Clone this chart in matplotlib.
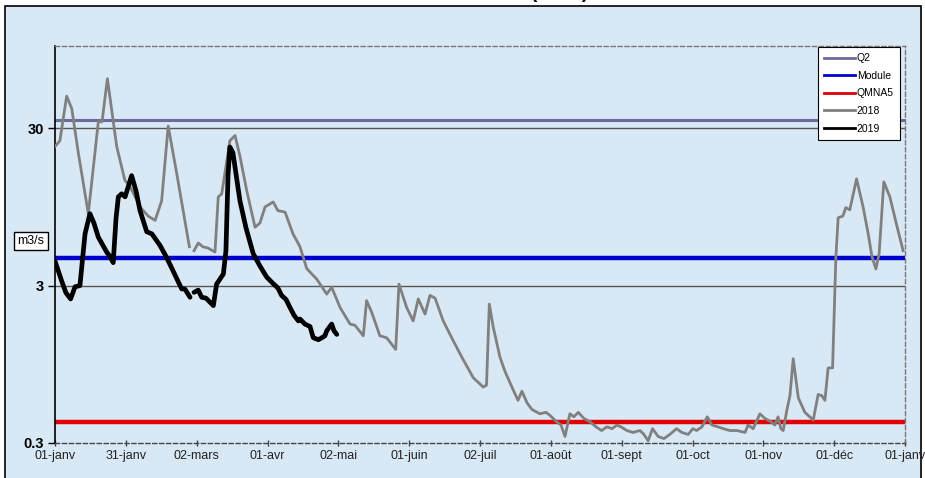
import numpy as np
import matplotlib
matplotlib.use("Agg")
import matplotlib.pyplot as plt
from matplotlib.patches import Rectangle
from matplotlib.lines import Line2D

plt.rcParams['font.family'] = ['Liberation Sans', 'DejaVu Sans']

nan = np.nan

# reference flows (m3/s)
q2 = 33.7
module = 4.5
qmna5 = 0.41

# 2018 daily flows (day of year, m3/s)
days_2018 = [0, 2.1, 5, 7.2, 10, 14.3, 18.6, 20.2, 22.5, 26.5,
             30, 32, 36.5, 40, 43, 45.8, 48.6, 52.3, 57.7, 59,
             59.7, 61.5, 63.5, 65.7, 68.7, 70.1, 71.6, 75.1, 77.3, 79.4,
             82.3, 85.9, 88, 90.2, 93.7, 95.7, 98.8, 102.2, 105.2, 108.1,
             112.4, 116.7, 118.8, 122.4, 126.7, 128.8, 132.4, 133.8, 136, 139.5,
             142.4, 146.3, 147.7, 151, 153.8, 156, 158.9, 161, 163.2, 166.7,
             171, 174.6, 179.6, 183.9, 185.3, 186.5, 188.2, 191.1, 193.3, 196.6,
             198.8, 200.5, 202.7, 204.8, 208.2, 210.8, 212.5, 215.4, 217.3, 219,
             221.1, 222.8, 224.7, 227.1, 229.7, 232.3, 234.7, 237, 239.2, 241.3,
             243, 245.6, 248.2, 251.2, 252.9, 254.7, 256.6, 259, 261.5, 264,
             266.9, 269.2, 271.9, 273.9, 275.5, 277.8, 280.1, 282.1, 284.7, 287,
             289.8, 292.8, 296.3, 297.6, 299.8, 302.7, 304.8, 307.4, 309.1, 310.5,
             311.7, 312.7, 314.2, 315.6, 317, 319.2, 322, 325.6, 327.7, 329.3,
             330.6, 332, 333.9, 335.3, 336.3, 338.3, 339.6, 341.3, 344.2, 347,
             349.2, 350.8, 352.5, 353.9, 355.9, 358.5, 361.4, 364.2]
q_2018 = [23, 25, 48, 40, 21, 8.6, 33, 33, 62, 23,
          14, 13, 9.5, 8.3, 7.8, 10.4, 31, 15.4, 5.3, nan,
          5.0, 5.6, 5.3, 5.2, 4.9, 11, 11.5, 25, 27, 20,
          12.1, 7.05, 7.5, 9.5, 10.2, 9.0, 8.8, 6.4, 5.3, 3.85,
          3.3, 2.65, 2.93, 2.18, 1.71, 1.68, 1.44, 2.41, 2.03, 1.44,
          1.40, 1.18, 3.07, 2.18, 1.79, 2.47, 1.98, 2.60, 2.5, 1.79,
          1.34, 1.06, 0.78, 0.68, 0.70, 2.29, 1.63, 1.05, 0.85, 0.66,
          0.56, 0.64, 0.54, 0.49, 0.46, 0.47, 0.45, 0.41, 0.39, 0.33,
          0.46, 0.44, 0.47, 0.43, 0.41, 0.38, 0.36, 0.38, 0.37, 0.39,
          0.38, 0.36, 0.35, 0.36, 0.34, 0.31, 0.37, 0.33, 0.32, 0.34,
          0.37, 0.35, 0.34, 0.37, 0.36, 0.38, 0.44, 0.39, 0.38, 0.37,
          0.36, 0.36, 0.35, 0.39, 0.37, 0.46, 0.43, 0.41, 0.39, 0.44,
          0.37, 0.36, 0.48, 0.60, 1.03, 0.58, 0.47, 0.42, 0.61, 0.60,
          0.56, 0.90, 0.90, 4.5, 8.1, 8.3, 9.4, 9.1, 14.3, 9.5,
          6.4, 4.6, 3.83, 4.8, 13.7, 11, 7.3, 5.0]

# 2019 daily flows
days_2019 = [0, 2.9, 4.7, 6.7, 8.6, 10.7, 12.9, 15, 16.7, 18.6,
             20.6, 22.2, 23.6, 25, 26.2, 27.2, 28.6, 30.1, 32.9, 34.8,
             36.5, 39.4, 41.6, 45.1, 47.7, 50.8, 52.8, 54.4, 55.8, 58,
             58.9, 59.7, 61.5, 63, 64.8, 68, 69.4, 72.3, 73.4, 74.3,
             75.1, 76.4, 79.4, 82, 85.1, 88, 90.9, 93.6, 95.7, 97.3,
             99.2, 100.9, 102.6, 104.5, 105.2, 107.3, 109.5, 110.9, 113.1, 114.6,
             115.9, 116.7, 118.8, 119.8, 121]
q_2019 = [4.3, 3.2, 2.7, 2.47, 2.95, 3.0, 6.4, 8.6, 7.5, 6.1,
          5.4, 4.9, 4.6, 4.2, 8, 11, 11.5, 11, 15, 12,
          9.0, 6.6, 6.4, 5.4, 4.6, 3.7, 3.2, 2.86, 2.85, 2.53,
          nan, 2.72, 2.81, 2.53, 2.5, 2.24, 3.07, 3.56, 5, 15,
          22.8, 21, 10.4, 7, 4.8, 4.0, 3.4, 3.1, 2.9, 2.60,
          2.45, 2.18, 1.95, 1.79, 1.84, 1.71, 1.65, 1.40, 1.36, 1.40,
          1.44, 1.55, 1.71, 1.55, 1.47]

xtick_labels = ['01-janv', '31-janv', '02-mars', '01-avr', '02-mai', '01-juin',
                '02-juil', '01-août', '01-sept', '01-oct', '01-nov', '01-déc', '01-janv']
ytick_values = [0.3, 3, 30]

fig = plt.figure(figsize=(9.25, 4.78), dpi=100, facecolor='white')

# chart area with black frame
bg = Rectangle((5/925, -0.05), 916/925, 1.05 - 6/478, transform=fig.transFigure,
               facecolor='#d9e8f5', edgecolor='black', linewidth=1.2, zorder=-10)
fig.patches.append(bg)

# title is cut off at the top of the picture: only the descenders show
fig.text(588/925, 1.0 + 1.5/478, 'DEBITS MOYENS JOURNALIERS (m3/s)', ha='right',
         va='baseline', fontsize=14, fontweight='bold')

ax = fig.add_axes([55/925, 1 - 443/478, 850/925, 397/478])
ax.set_facecolor('none')
ax.set_yscale('log')
ax.set_ylim(0.3, 100)
ax.set_xlim(0, 365)

ax.axhline(3, color='#555555', lw=1, zorder=1)
ax.axhline(30, color='#555555', lw=1, zorder=1)
ax.axhline(q2, color='#6b6b9e', lw=2.2, zorder=2)
ax.axhline(module, color='#0000cc', lw=3.2, zorder=2)
ax.axhline(qmna5, color='#e00000', lw=3.2, zorder=2)

ax.plot(days_2018, q_2018, color='#808080', lw=2.0, zorder=3)
ax.plot(days_2019, q_2019, color='black', lw=3.4, zorder=4,
        solid_joinstyle='round', solid_capstyle='round')

ax.set_yticks(ytick_values)
ax.set_yticklabels(['0.3', '3', '30'], fontsize=10.5, fontweight='bold')
ax.yaxis.set_minor_locator(matplotlib.ticker.NullLocator())
ax.tick_params(axis='y', direction='out', length=5, width=1, pad=3)

ax.set_xticks(np.arange(13) * 365 / 12)
ax.set_xticklabels(xtick_labels, fontsize=9, color='#222222')
ax.tick_params(axis='x', direction='inout', length=4, width=1, pad=3, color='#444444')

ax.spines['left'].set_color('black')
ax.spines['left'].set_linewidth(1.2)
for side in ['top', 'right', 'bottom']:
    ax.spines[side].set_linestyle((0, (3, 2)))
    ax.spines[side].set_linewidth(1)
ax.spines['top'].set_color('#777777')
ax.spines['right'].set_color('#777777')
ax.spines['bottom'].set_color('#444444')

fig.text(31/925, 1 - 241/478, 'm3/s', ha='center', va='center', fontsize=9,
         bbox=dict(boxstyle='square,pad=0.25', facecolor='white', edgecolor='black', lw=1))

handles = [Line2D([], [], color='#6b6b9e', lw=2),
           Line2D([], [], color='#0000cc', lw=2),
           Line2D([], [], color='#e00000', lw=2),
           Line2D([], [], color='#808080', lw=2),
           Line2D([], [], color='black', lw=2)]
leg = ax.legend(handles, ['Q2', 'Module', 'QMNA5', '2018', '2019'], loc='upper right',
                bbox_to_anchor=(845/850, 1 - 1/397), borderaxespad=0, fontsize=7.5,
                fancybox=False, framealpha=1, edgecolor='black', handlelength=3.0,
                handletextpad=0.15, labelspacing=0.73, borderpad=0.6)
leg.get_frame().set_linewidth(0.8)
leg.set_zorder(10)

fig.savefig('out.png', dpi=100, facecolor=fig.get_facecolor())
